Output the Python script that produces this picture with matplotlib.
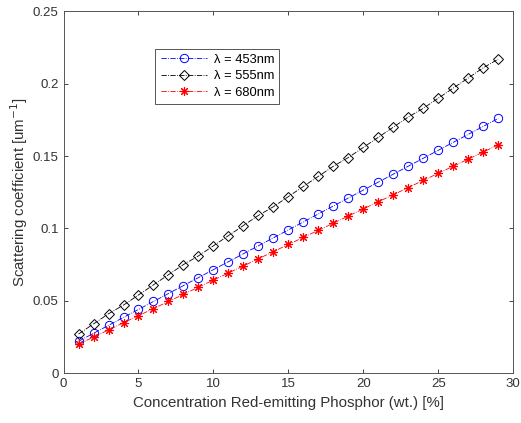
import numpy as np
import matplotlib.pyplot as plt

plt.rcParams['font.family'] = ['Liberation Sans', 'DejaVu Sans']

conc = list(range(1, 30))

blue_453 = [0.022, 0.0275, 0.033, 0.0385, 0.044, 0.0495, 0.055, 0.0605, 0.066, 0.0715,
            0.077, 0.0825, 0.088, 0.0935, 0.099, 0.1045, 0.110, 0.1155, 0.121, 0.1265,
            0.132, 0.1375, 0.143, 0.1485, 0.154, 0.1595, 0.165, 0.1705, 0.176]
black_555 = [0.027, 0.034, 0.041, 0.047, 0.054, 0.061, 0.068, 0.075, 0.081, 0.088,
             0.095, 0.102, 0.109, 0.115, 0.122, 0.129, 0.136, 0.143, 0.149, 0.156,
             0.163, 0.170, 0.177, 0.183, 0.190, 0.197, 0.204, 0.211, 0.217]
red_680 = [0.020, 0.0249, 0.0298, 0.0348, 0.0397, 0.0446, 0.0495, 0.0544, 0.0594, 0.0643,
           0.0692, 0.0741, 0.079, 0.084, 0.0889, 0.0938, 0.0987, 0.1036, 0.1086, 0.1135,
           0.1184, 0.1233, 0.1282, 0.1332, 0.1381, 0.143, 0.1479, 0.1528, 0.1578]

labels = ['λ = 453nm', 'λ = 555nm', 'λ = 680nm']

fig = plt.figure(figsize=(5.21, 4.23), dpi=100)
ax = fig.add_axes([0.122, 0.118, 0.863, 0.855])

ax.plot(conc, blue_453, '-.', color='blue', marker='o', markersize=6,
        markerfacecolor='none', markeredgewidth=0.7, linewidth=0.6, label=labels[0])
ax.plot(conc, black_555, '-.', color='black', marker='D', markersize=5.3,
        markerfacecolor='none', markeredgewidth=0.7, linewidth=0.6, label=labels[1])
ax.plot(conc, red_680, '-.', color='red', marker=(8, 2, 0), markersize=6.5,
        markeredgewidth=0.8, linewidth=0.6, label=labels[2])

ax.set_xlim(0, 30)
ax.set_ylim(0, 0.25)
ax.set_xticks([0, 5, 10, 15, 20, 25, 30])
ax.set_yticks([0, 0.05, 0.1, 0.15, 0.2, 0.25])
ax.set_yticklabels(['0', '0.05', '0.1', '0.15', '0.2', '0.25'])
ax.tick_params(direction='in', length=3, width=0.6, color='#262626', labelcolor='#333333',
               labelsize=9.5, top=True, right=True)
for s in ax.spines.values():
    s.set_linewidth(0.7)
    s.set_color('#555555')

ax.set_xlabel('Concentration Red-emitting Phosphor (wt.) [%]', fontsize=10.8, color='#333333')
ax.set_ylabel('Scattering coefficient [um$^{-1}$]', fontsize=10.8, color='#333333', labelpad=2)

leg = ax.legend(loc='upper left', bbox_to_anchor=(0.19, 0.915), fontsize=9.3,
                handlelength=3.6, fancybox=False, edgecolor='#555555', framealpha=1,
                borderpad=0.4, labelspacing=0.35, handletextpad=0.5)
leg.get_frame().set_linewidth(0.7)

fig.savefig('out.png', dpi=100)
